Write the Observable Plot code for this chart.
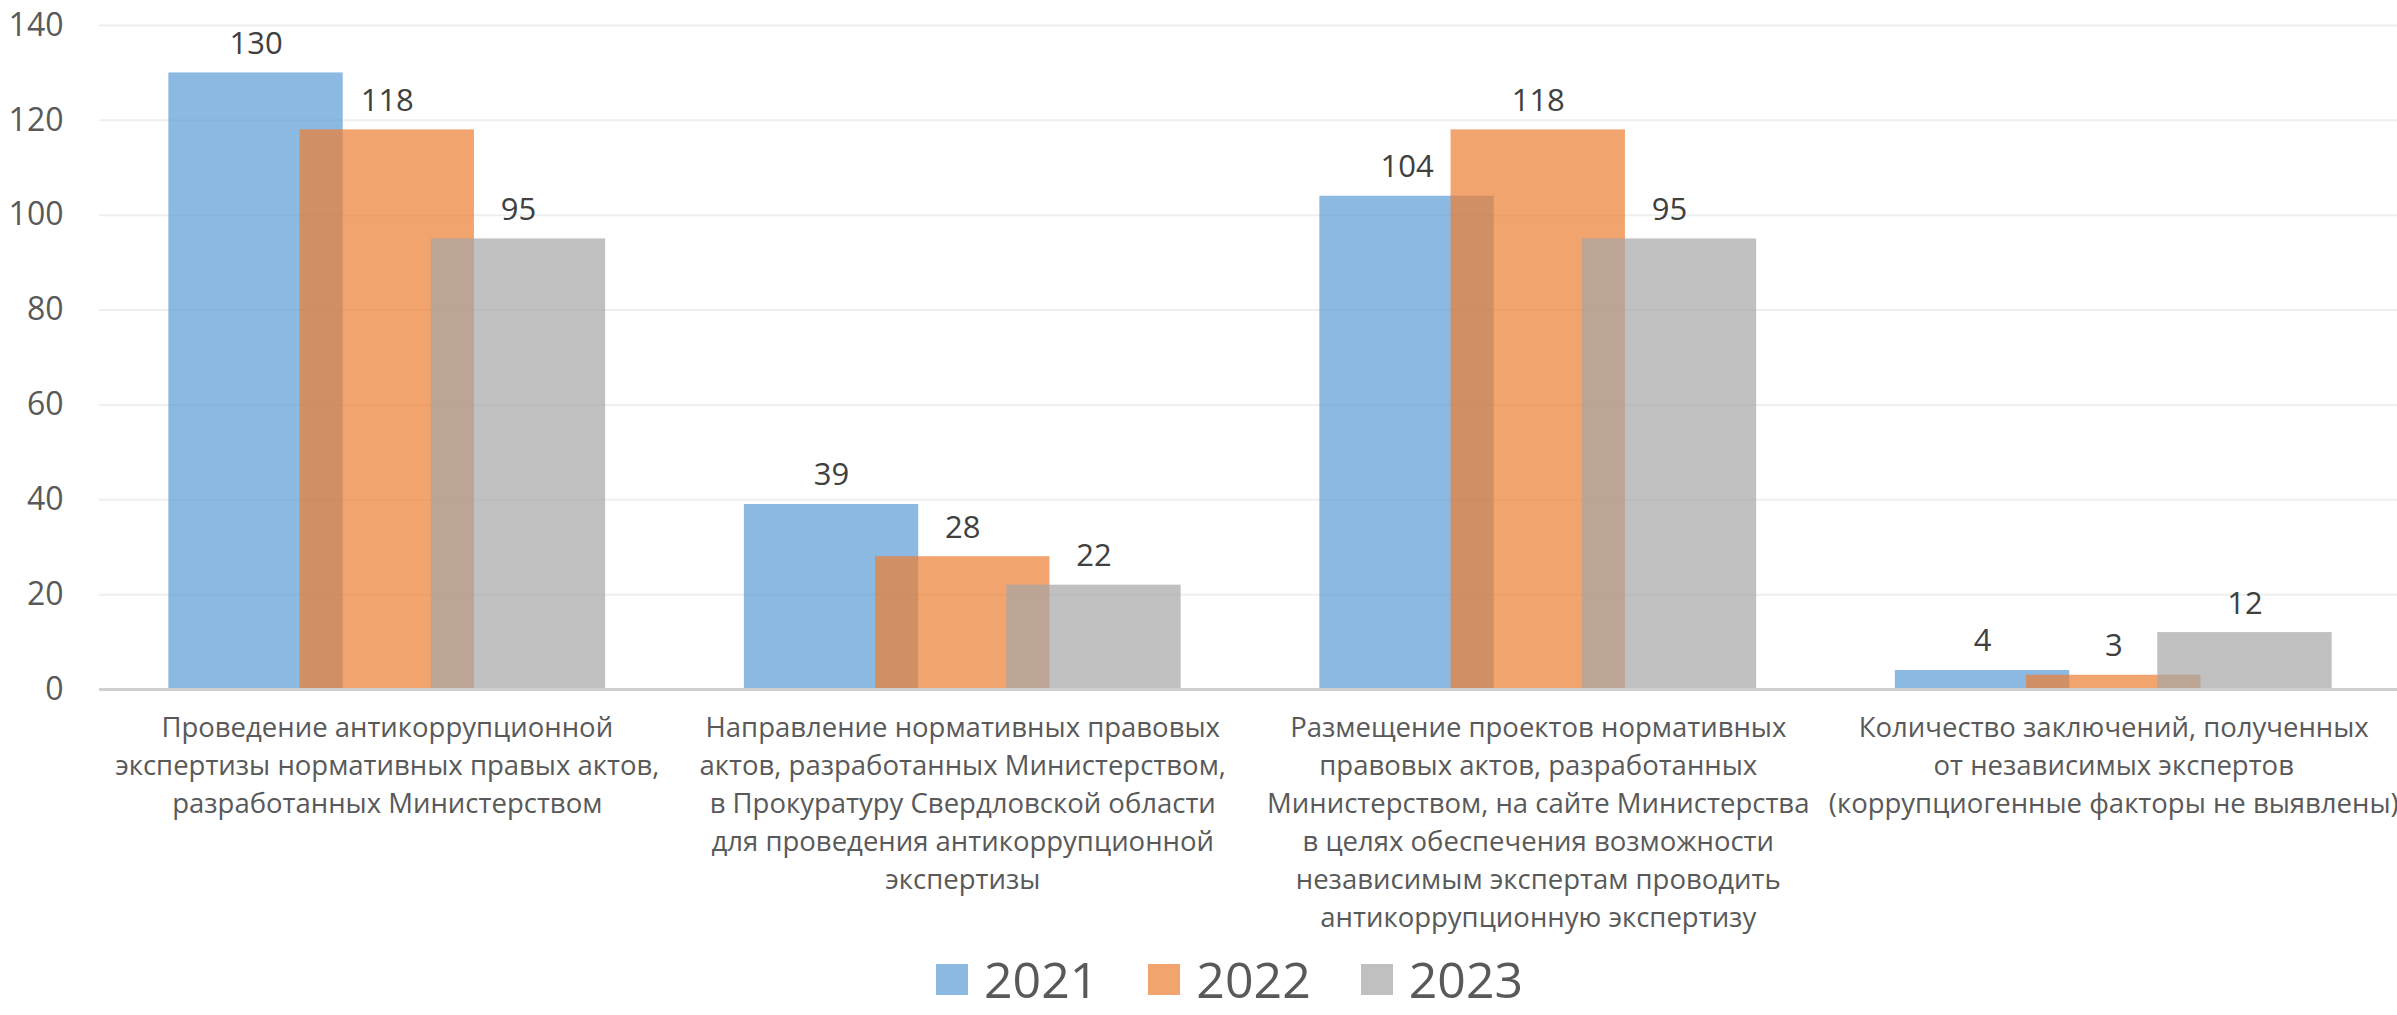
<!DOCTYPE html>
<html>
<head>
<meta charset="utf-8">
<script src="https://cdn.jsdelivr.net/npm/d3@7"></script>
<script src="https://cdn.jsdelivr.net/npm/@observablehq/plot@0.6"></script>
<style>
  html, body { margin: 0; padding: 0; background: #fff; }
  body { width: 2397px; height: 1015px; overflow: hidden; font-family: "Open Sans", "Noto Sans", sans-serif; }
  #chart svg { display: block; }
  #legend { display: flex; align-items: center; height: 48px; margin-top: 3px; margin-left: 936px; color: #595959; font-size: 50px; line-height: 48px; }
  .item { display: flex; align-items: center; margin-right: 50px; }
  .sw { width: 32px; height: 31px; margin-right: 16px; }
</style>
</head>
<body>
<div id="chart"></div>
<div id="legend"></div>
<script>
const categories = [
  "Проведение антикоррупционной\nэкспертизы нормативных правых актов,\nразработанных Министерством",
  "Направление нормативных правовых\nактов, разработанных Министерством,\nв Прокуратуру Свердловской области\nдля проведения антикоррупционной\nэкспертизы",
  "Размещение проектов нормативных\nправовых актов, разработанных\nМинистерством, на сайте Министерства\nв целях обеспечения возможности\nнезависимым экспертам проводить\nантикоррупционную экспертизу",
  "Количество заключений, полученных\nот независимых экспертов\n(коррупциогенные факторы не выявлены)"
];
const years = ["2021", "2022", "2023"];
const values2021 = [130, 39, 104, 4];
const values2022 = [118, 28, 118, 3];
const values2023 = [95, 22, 95, 12];
const yTicks = [0, 20, 40, 60, 80, 100, 120, 140];

const colors = ["#5B9BD5", "#ED7D31", "#A5A5A5"];
const series = [values2021, values2022, values2023];

const step = 0.228, barW = 0.303;
const rows = [];
series.forEach((vals, j) => {
  vals.forEach((v, i) => {
    const c = i + (j - 1) * step;
    rows.push({cat: i, year: years[j], value: v, x1: c - barW / 2, x2: c + barW / 2, xc: c});
  });
});
const catRows = categories.map((t, i) => ({i, t}));

const chart = Plot.plot({
  width: 2397,
  height: 952,
  marginLeft: 99,
  marginRight: -4,
  marginTop: 25,
  marginBottom: 263,
  style: {fontFamily: "'Open Sans', 'Noto Sans', sans-serif", background: "#fff", overflow: "visible"},
  x: {domain: [-0.5, 3.5], axis: null},
  y: {domain: [0, 140], axis: null},
  color: {domain: years, range: colors},
  marks: [
    Plot.ruleY(yTicks.filter(d => d > 0), {stroke: "#EFEFEF", strokeWidth: 2}),
    Plot.axisY(yTicks, {tickSize: 0, tickPadding: 36, fontSize: 32, fill: "#595959", label: null}),
    Plot.rectY(rows, {x1: "x1", x2: "x2", y: "value", fill: "year", fillOpacity: 0.7}),
    Plot.ruleY([0], {stroke: "#D0D0D0", strokeWidth: 3}),
    Plot.text(rows, {x: "xc", y: "value", text: d => String(d.value), dy: -29, fontSize: 31, fill: "#404040"}),
    Plot.text(catRows, {x: "i", y: 0, text: "t", lineAnchor: "top", dy: 21, fontSize: 27.5, lineHeight: 1.38, fill: "#595959"})
  ]
});
document.getElementById("chart").appendChild(chart);

const legend = document.getElementById("legend");
years.forEach((y, j) => {
  const it = document.createElement("div");
  it.className = "item";
  const sw = document.createElement("div");
  sw.className = "sw";
  sw.style.background = colors[j];
  sw.style.opacity = 0.7;
  const tx = document.createElement("span");
  tx.textContent = y;
  it.appendChild(sw);
  it.appendChild(tx);
  legend.appendChild(it);
});
</script>
</body>
</html>
